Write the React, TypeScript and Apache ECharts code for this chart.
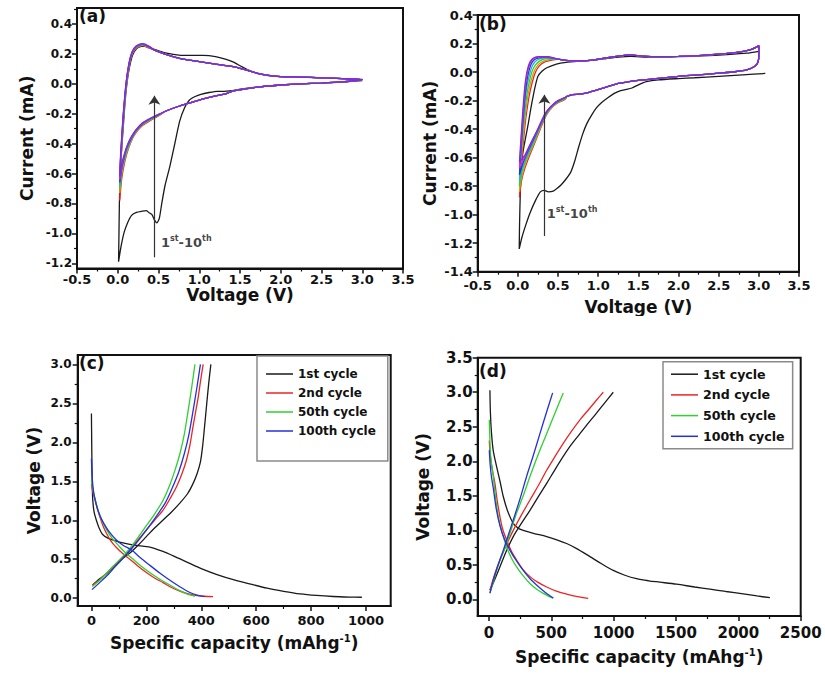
import React, { useEffect, useRef } from 'react';
import * as echarts from 'echarts';

const FONT = "'DejaVu Sans', 'Liberation Sans', sans-serif";
const INK = '#111111';

// ---------- Panel (a): CV, 1st-10th cycles ----------
const aCycle1 = [[3.0,0.022],[2.75,0.012],[2.5,0.005],[2.25,0.0],[2.0,-0.008],[1.75,-0.02],[1.55,-0.032],[1.4,-0.045],[1.3,-0.05],[1.22,-0.05],[1.12,-0.058],[1.02,-0.07],[0.95,-0.085],[0.88,-0.108],[0.82,-0.16],[0.76,-0.25],[0.7,-0.4],[0.64,-0.55],[0.58,-0.68],[0.54,-0.8],[0.51,-0.9],[0.48,-0.93],[0.45,-0.91],[0.42,-0.875],[0.38,-0.86],[0.35,-0.848],[0.3,-0.852],[0.23,-0.86],[0.17,-0.88],[0.12,-0.93],[0.08,-0.99],[0.05,-1.06],[0.03,-1.12],[0.01,-1.19],[0.015,-1.0],[0.02,-0.8],[0.03,-0.6],[0.05,-0.42],[0.07,-0.27],[0.09,-0.12],[0.11,-0.01],[0.14,0.1],[0.18,0.19],[0.23,0.235],[0.29,0.25],[0.34,0.25],[0.42,0.235],[0.5,0.22],[0.6,0.205],[0.75,0.192],[0.9,0.19],[1.05,0.19],[1.2,0.182],[1.32,0.165],[1.42,0.145],[1.52,0.115],[1.62,0.088],[1.75,0.065],[1.9,0.052],[2.1,0.047],[2.4,0.042],[2.7,0.036],[3.0,0.03]];
const aRightShared = [[0.45,0.225],[0.6,0.195],[0.8,0.165],[1.0,0.148],[1.2,0.132],[1.4,0.116],[1.55,0.096],[1.7,0.072],[1.85,0.056],[2.0,0.048],[2.25,0.045],[2.5,0.04],[2.75,0.035],[3.0,0.028],[2.75,0.013],[2.5,0.005],[2.25,0.0],[2.0,-0.008],[1.75,-0.02],[1.55,-0.035],[1.4,-0.05],[1.32,-0.068],[1.2,-0.08],[1.05,-0.1],[0.9,-0.125],[0.75,-0.15],[0.6,-0.18]];
const aLeftRed = [[0.6,-0.18],[0.5,-0.215],[0.4,-0.245],[0.3,-0.28],[0.22,-0.33],[0.16,-0.39],[0.11,-0.47],[0.075,-0.55],[0.05,-0.63],[0.035,-0.71],[0.025,-0.78],[0.028,-0.7],[0.036,-0.56],[0.048,-0.42],[0.065,-0.27],[0.085,-0.12],[0.105,-0.01],[0.13,0.09],[0.16,0.17],[0.2,0.22],[0.25,0.245],[0.31,0.255],[0.38,0.24],[0.45,0.225]];
const aLeftOrange = [[0.6,-0.18],[0.5,-0.21],[0.4,-0.24],[0.3,-0.275],[0.22,-0.325],[0.16,-0.385],[0.11,-0.46],[0.075,-0.53],[0.05,-0.6],[0.035,-0.67],[0.025,-0.73],[0.028,-0.66],[0.036,-0.53],[0.05,-0.4],[0.066,-0.26],[0.086,-0.12],[0.105,-0.01],[0.13,0.09],[0.16,0.175],[0.2,0.225],[0.25,0.25],[0.31,0.258],[0.38,0.245],[0.45,0.225]];
const aLeftGreen = [[0.6,-0.18],[0.5,-0.21],[0.4,-0.238],[0.3,-0.272],[0.22,-0.32],[0.16,-0.38],[0.11,-0.45],[0.075,-0.52],[0.05,-0.58],[0.035,-0.65],[0.025,-0.7],[0.028,-0.63],[0.036,-0.51],[0.05,-0.39],[0.066,-0.25],[0.086,-0.11],[0.105,0.0],[0.13,0.1],[0.16,0.178],[0.2,0.228],[0.25,0.252],[0.31,0.26],[0.38,0.246],[0.45,0.225]];
const aLeftCyan = [[0.6,-0.18],[0.5,-0.208],[0.4,-0.236],[0.3,-0.27],[0.22,-0.318],[0.16,-0.375],[0.11,-0.44],[0.075,-0.51],[0.05,-0.57],[0.035,-0.63],[0.025,-0.68],[0.028,-0.61],[0.036,-0.5],[0.05,-0.38],[0.066,-0.24],[0.086,-0.1],[0.105,0.0],[0.13,0.1],[0.16,0.18],[0.2,0.23],[0.25,0.254],[0.31,0.262],[0.38,0.247],[0.45,0.225]];
const aLeftBlue = [[0.6,-0.18],[0.5,-0.206],[0.4,-0.234],[0.3,-0.268],[0.22,-0.315],[0.16,-0.37],[0.11,-0.43],[0.075,-0.5],[0.05,-0.56],[0.035,-0.62],[0.025,-0.66],[0.028,-0.6],[0.036,-0.49],[0.05,-0.37],[0.066,-0.23],[0.086,-0.1],[0.105,0.01],[0.13,0.105],[0.16,0.182],[0.2,0.232],[0.25,0.256],[0.31,0.264],[0.38,0.248],[0.45,0.225]];
const aLeftMagenta = [[0.6,-0.18],[0.5,-0.205],[0.4,-0.232],[0.3,-0.265],[0.22,-0.312],[0.16,-0.365],[0.11,-0.425],[0.075,-0.49],[0.05,-0.55],[0.035,-0.6],[0.025,-0.64],[0.028,-0.58],[0.036,-0.48],[0.05,-0.36],[0.066,-0.22],[0.086,-0.09],[0.105,0.015],[0.13,0.11],[0.16,0.185],[0.2,0.235],[0.25,0.258],[0.31,0.266],[0.38,0.25],[0.45,0.225]];
const aLeftPurple = [[0.6,-0.18],[0.5,-0.204],[0.4,-0.23],[0.3,-0.262],[0.22,-0.31],[0.16,-0.36],[0.11,-0.42],[0.075,-0.48],[0.05,-0.53],[0.035,-0.58],[0.025,-0.62],[0.028,-0.56],[0.036,-0.46],[0.05,-0.34],[0.066,-0.21],[0.086,-0.08],[0.105,0.02],[0.13,0.115],[0.16,0.19],[0.2,0.238],[0.25,0.26],[0.31,0.268],[0.38,0.252],[0.45,0.225]];

// ---------- Panel (b) ----------
const bCycle1 = [[3.08,-0.01],[2.8,-0.02],[2.5,-0.03],[2.2,-0.04],[2.0,-0.046],[1.75,-0.055],[1.6,-0.068],[1.5,-0.09],[1.42,-0.112],[1.35,-0.122],[1.28,-0.13],[1.2,-0.15],[1.12,-0.18],[1.04,-0.215],[0.98,-0.25],[0.92,-0.3],[0.86,-0.36],[0.81,-0.43],[0.76,-0.52],[0.71,-0.62],[0.66,-0.7],[0.6,-0.75],[0.54,-0.79],[0.49,-0.815],[0.44,-0.835],[0.38,-0.84],[0.33,-0.83],[0.28,-0.84],[0.22,-0.9],[0.15,-0.99],[0.1,-1.07],[0.05,-1.16],[0.017,-1.24],[0.02,-1.1],[0.03,-0.85],[0.045,-0.65],[0.067,-0.55],[0.1,-0.45],[0.13,-0.36],[0.16,-0.26],[0.19,-0.17],[0.22,-0.09],[0.25,-0.03],[0.3,0.005],[0.36,0.03],[0.48,0.056],[0.6,0.068],[0.8,0.078],[0.95,0.085],[1.1,0.095],[1.25,0.105],[1.4,0.11],[1.6,0.105],[1.8,0.104],[2.0,0.108],[2.3,0.113],[2.6,0.122],[2.85,0.132],[3.0,0.145]];
const bRightShared = [[0.5,0.09],[0.65,0.078],[0.8,0.078],[0.95,0.085],[1.1,0.1],[1.25,0.112],[1.4,0.12],[1.55,0.112],[1.75,0.108],[2.0,0.11],[2.25,0.115],[2.5,0.125],[2.75,0.14],[2.9,0.158],[2.97,0.175],[3.0,0.185],[3.0,0.12],[2.99,0.07],[2.95,0.04],[2.85,0.015],[2.7,0.002],[2.5,-0.008],[2.25,-0.02],[2.0,-0.03],[1.75,-0.045],[1.5,-0.058],[1.25,-0.08],[1.05,-0.115],[0.9,-0.14],[0.77,-0.155],[0.68,-0.158],[0.6,-0.175]];
const bLeftRed = [[0.6,-0.185],[0.5,-0.215],[0.44,-0.24],[0.38,-0.28],[0.33,-0.33],[0.28,-0.4],[0.23,-0.47],[0.15,-0.58],[0.09,-0.67],[0.05,-0.75],[0.03,-0.82],[0.02,-0.88],[0.03,-0.76],[0.05,-0.6],[0.075,-0.45],[0.1,-0.32],[0.14,-0.17],[0.18,-0.07],[0.22,0.0],[0.27,0.045],[0.33,0.07],[0.41,0.082],[0.5,0.09]];
const bLeftOrange = [[0.6,-0.182],[0.5,-0.212],[0.44,-0.238],[0.38,-0.275],[0.33,-0.325],[0.28,-0.39],[0.23,-0.46],[0.15,-0.565],[0.09,-0.65],[0.05,-0.73],[0.03,-0.79],[0.02,-0.84],[0.03,-0.72],[0.048,-0.57],[0.07,-0.43],[0.095,-0.29],[0.13,-0.15],[0.17,-0.05],[0.21,0.015],[0.26,0.055],[0.32,0.077],[0.4,0.088],[0.5,0.09]];
const bLeftGreen = [[0.6,-0.18],[0.5,-0.21],[0.44,-0.235],[0.38,-0.27],[0.33,-0.32],[0.28,-0.38],[0.23,-0.45],[0.15,-0.55],[0.09,-0.63],[0.05,-0.7],[0.03,-0.76],[0.02,-0.8],[0.03,-0.68],[0.045,-0.54],[0.065,-0.4],[0.09,-0.26],[0.12,-0.13],[0.15,-0.05],[0.18,0.01],[0.22,0.05],[0.28,0.08],[0.36,0.095],[0.5,0.09]];
const bLeftCyan = [[0.6,-0.178],[0.5,-0.207],[0.44,-0.232],[0.38,-0.267],[0.33,-0.315],[0.28,-0.375],[0.23,-0.44],[0.15,-0.54],[0.09,-0.615],[0.05,-0.68],[0.03,-0.73],[0.02,-0.76],[0.03,-0.65],[0.045,-0.52],[0.063,-0.38],[0.085,-0.24],[0.11,-0.11],[0.14,-0.03],[0.17,0.03],[0.21,0.07],[0.27,0.092],[0.35,0.1],[0.5,0.09]];
const bLeftBlue = [[0.6,-0.177],[0.5,-0.204],[0.44,-0.23],[0.38,-0.264],[0.33,-0.31],[0.28,-0.37],[0.23,-0.43],[0.15,-0.525],[0.09,-0.6],[0.05,-0.66],[0.03,-0.7],[0.02,-0.72],[0.03,-0.62],[0.045,-0.49],[0.062,-0.35],[0.082,-0.21],[0.105,-0.09],[0.13,-0.01],[0.16,0.05],[0.2,0.085],[0.26,0.1],[0.35,0.105],[0.5,0.09]];
const bLeftMagenta = [[0.6,-0.176],[0.5,-0.202],[0.44,-0.228],[0.38,-0.262],[0.33,-0.305],[0.28,-0.365],[0.23,-0.425],[0.15,-0.515],[0.09,-0.59],[0.05,-0.635],[0.03,-0.66],[0.02,-0.67],[0.03,-0.58],[0.045,-0.45],[0.062,-0.31],[0.08,-0.18],[0.1,-0.07],[0.125,0.01],[0.155,0.065],[0.2,0.095],[0.26,0.105],[0.36,0.107],[0.5,0.09]];
const bLeftPurple = [[0.6,-0.175],[0.5,-0.2],[0.44,-0.225],[0.38,-0.26],[0.33,-0.3],[0.28,-0.36],[0.23,-0.42],[0.15,-0.51],[0.09,-0.58],[0.05,-0.61],[0.03,-0.625],[0.02,-0.63],[0.03,-0.54],[0.045,-0.41],[0.062,-0.27],[0.08,-0.14],[0.1,-0.04],[0.125,0.03],[0.155,0.075],[0.2,0.1],[0.26,0.108],[0.38,0.108],[0.5,0.09]];

// ---------- Panel (c): charge/discharge ----------
const cDis1 = [[0,2.37],[1,2.0],[2,1.7],[3,1.45],[5,1.25],[10,1.1],[18,1.0],[28,0.9],[40,0.82],[60,0.77],[85,0.74],[115,0.71],[150,0.685],[180,0.67],[220,0.65],[260,0.6],[300,0.54],[350,0.46],[400,0.38],[460,0.3],[520,0.235],[580,0.18],[640,0.128],[700,0.088],[760,0.055],[820,0.035],[880,0.022],[940,0.015],[985,0.012]];
const cChg1 = [[4,0.17],[30,0.25],[60,0.33],[80,0.4],[110,0.5],[140,0.58],[170,0.68],[200,0.79],[230,0.9],[260,1.0],[290,1.1],[322,1.22],[350,1.34],[370,1.47],[385,1.6],[397,1.75],[405,1.95],[412,2.2],[419,2.46],[427,2.75],[435,3.0]];
const cDis2 = [[0,1.47],[3,1.4],[6,1.35],[12,1.28],[20,1.17],[30,1.05],[42,0.93],[55,0.83],[70,0.74],[91,0.65],[115,0.57],[140,0.5],[170,0.41],[200,0.33],[230,0.26],[261,0.2],[290,0.14],[322,0.09],[350,0.058],[383,0.034],[410,0.025],[443,0.02]];
const cChg2 = [[3,0.17],[30,0.235],[55,0.32],[79,0.405],[110,0.51],[140,0.62],[170,0.75],[200,0.875],[230,1.0],[261,1.13],[290,1.3],[310,1.43],[330,1.6],[346,1.77],[358,1.95],[370,2.2],[380,2.4],[389,2.58],[398,2.8],[407,3.0]];
const cDis50 = [[0,1.52],[3,1.45],[8,1.35],[15,1.25],[25,1.12],[38,1.0],[55,0.88],[75,0.77],[100,0.67],[125,0.58],[155,0.49],[185,0.4],[220,0.31],[255,0.23],[290,0.16],[320,0.1],[345,0.06],[365,0.035],[377,0.025]];
const cChg50 = [[3,0.15],[30,0.23],[55,0.32],[79,0.41],[110,0.52],[140,0.64],[170,0.78],[200,0.93],[230,1.08],[260,1.25],[285,1.45],[305,1.65],[322,1.85],[338,2.1],[352,2.4],[365,2.7],[377,3.0]];
const cDis100 = [[0,1.79],[2,1.6],[5,1.45],[10,1.32],[20,1.17],[32,1.05],[45,0.96],[65,0.85],[90,0.75],[115,0.68],[146,0.62],[175,0.53],[210,0.43],[250,0.32],[290,0.22],[325,0.14],[355,0.08],[385,0.04],[413,0.02]];
const cChg100 = [[2,0.11],[30,0.2],[60,0.3],[90,0.42],[120,0.53],[150,0.65],[180,0.78],[210,0.92],[240,1.07],[270,1.23],[295,1.42],[318,1.62],[338,1.85],[355,2.1],[370,2.4],[384,2.7],[397,3.0]];

// ---------- Panel (d) ----------
const dDis1 = [[8,3.03],[12,2.7],[21,2.4],[35,2.15],[62,1.92],[90,1.7],[115,1.49],[150,1.28],[195,1.1],[235,1.03],[275,1.0],[350,0.96],[463,0.91],[550,0.86],[623,0.81],[700,0.74],[810,0.62],[900,0.52],[997,0.42],[1090,0.35],[1184,0.3],[1280,0.27],[1371,0.25],[1505,0.22],[1650,0.18],[1772,0.15],[1900,0.115],[2039,0.08],[2150,0.05],[2253,0.025]];
const dChg1 = [[8,0.135],[40,0.26],[88,0.47],[140,0.7],[195,0.91],[260,1.1],[329,1.29],[400,1.5],[463,1.68],[530,1.88],[596,2.07],[660,2.24],[730,2.4],[800,2.56],[864,2.7],[930,2.85],[997,3.0]];
const dDis2 = [[3,2.3],[10,2.1],[25,1.9],[48,1.68],[65,1.45],[88,1.2],[110,1.02],[142,0.86],[180,0.7],[222,0.57],[270,0.44],[329,0.33],[390,0.25],[463,0.18],[540,0.12],[623,0.077],[710,0.04],[796,0.014]];
const dChg2 = [[8,0.13],[40,0.33],[88,0.57],[140,0.79],[195,1.0],[260,1.22],[329,1.44],[400,1.66],[463,1.87],[530,2.07],[596,2.26],[660,2.43],[730,2.6],[800,2.75],[860,2.88],[917,3.0]];
const dDis50 = [[3,2.6],[8,2.3],[15,2.05],[35,1.78],[55,1.45],[75,1.2],[105,0.97],[142,0.76],[180,0.6],[222,0.47],[275,0.34],[329,0.23],[380,0.15],[436,0.087],[480,0.045],[516,0.02]];
const dChg50 = [[8,0.09],[35,0.25],[62,0.42],[100,0.62],[142,0.81],[180,1.02],[222,1.25],[275,1.5],[329,1.78],[395,2.1],[463,2.4],[530,2.7],[596,2.99]];
const dDis100 = [[3,2.16],[10,1.95],[20,1.78],[35,1.61],[60,1.3],[88,1.07],[125,0.87],[169,0.71],[220,0.56],[275,0.42],[330,0.3],[382,0.21],[440,0.12],[480,0.065],[516,0.02]];
const dChg100 = [[8,0.09],[35,0.28],[70,0.48],[115,0.71],[155,0.93],[195,1.15],[250,1.46],[302,1.78],[355,2.08],[409,2.4],[460,2.7],[511,2.99]];

// ---------- tick values ----------
const cvXTicks = [-0.5,0,0.5,1,1.5,2,2.5,3,3.5];
const cvXMinor = [-0.25,0.25,0.75,1.25,1.75,2.25,2.75,3.25];
const aYTicks = [-1.2,-1.0,-0.8,-0.6,-0.4,-0.2,0,0.2,0.4];
const aYMinor = [-1.1,-0.9,-0.7,-0.5,-0.3,-0.1,0.1,0.3,0.5];
const bYTicks = [-1.4,-1.2,-1.0,-0.8,-0.6,-0.4,-0.2,0,0.2,0.4];
const bYMinor = [-1.3,-1.1,-0.9,-0.7,-0.5,-0.3,-0.1,0.1,0.3];
const cXTicks = [0,200,400,600,800,1000];
const cXMinor = [100,300,500,700,900];
const cYTicks = [0,0.5,1,1.5,2,2.5,3];
const cYMinor = [0.25,0.75,1.25,1.75,2.25,2.75];
const dXTicks = [0,500,1000,1500,2000,2500];
const dXMinor = [250,750,1250,1750,2250];
const dYTicks = [0,0.5,1,1.5,2,2.5,3,3.5];
const dYMinor = [0.25,0.75,1.25,1.75,2.25,2.75,3.25];

const legendNames = ['1st cycle','2nd cycle','50th cycle','100th cycle'];
const arrowA = [[0.45,-1.16],[0.45,-0.08]];
const labelA = [0.53,-1.06];
const arrowB = [[0.33,-1.15],[0.33,-0.16]];
const labelB = [0.36,-0.99];

const C_BLACK = '#1a1a1a', C_RED = '#ee2424', C_ORANGE = '#c9a21a', C_GREEN = '#2fd02f', C_CYAN = '#1fb5d5', C_BLUE = '#2430d8', C_MAGENTA = '#d82ad8', C_PURPLE = '#7b2fcf';

type AxCfg = { min: number; max: number; major: number[]; minor: number[]; dec: number; fs: number; margin: number; name: string; gap: number };

function axisPair(grid: number, dir: 'x' | 'y', c: AxCfg) {
  const pos = dir === 'x' ? 'bottom' : 'left';
  const main = {
    type: 'value', gridIndex: grid, min: c.min, max: c.max, position: pos,
    axisLine: { show: true, onZero: false, lineStyle: { color: INK, width: 2 } },
    axisTick: { show: true, inside: false, length: 5, customValues: c.major, lineStyle: { color: INK, width: 1.5 } },
    axisLabel: { show: true, customValues: c.major, margin: c.margin, formatter: (v: number) => v.toFixed(c.dec), fontFamily: FONT, fontWeight: 'bold', fontSize: c.fs, color: INK, hideOverlap: false },
    splitLine: { show: false },
    name: c.name, nameLocation: 'middle', nameGap: c.gap,
    nameTextStyle: {
      fontFamily: FONT, fontWeight: 'bold', fontSize: 17, color: INK,
      rich: {
        t: { fontFamily: FONT, fontWeight: 'bold', fontSize: 17, color: INK },
        s: { fontFamily: FONT, fontWeight: 'bold', fontSize: 10, color: INK, padding: [0, 0, 9, 0] },
      },
    },
  };
  const minor = {
    type: 'value', gridIndex: grid, min: c.min, max: c.max, position: pos,
    axisLine: { show: false, onZero: false },
    axisTick: { show: true, inside: false, length: 3, customValues: c.minor, lineStyle: { color: INK, width: 1.2 } },
    axisLabel: { show: false },
    splitLine: { show: false },
  };
  return [main, minor];
}

function line(name: string, grid: number, data: number[][], color: string, width = 1.3, smooth: number | boolean = 0.2) {
  return {
    type: 'line', name, xAxisIndex: grid * 2, yAxisIndex: grid * 2, data,
    showSymbol: false, symbol: 'none', smooth, color,
    lineStyle: { color, width }, silent: true, z: 3,
  };
}

function arrowSeries(grid: number, arrow: number[][], label: number[]) {
  return {
    type: 'scatter', name: 'arrow' + grid, xAxisIndex: grid * 2, yAxisIndex: grid * 2,
    data: [label], symbolSize: 0, silent: true, z: 5,
    label: {
      show: true, position: 'right', distance: 0,
      formatter: '{n|1}{s|st}{n|-10}{s|th}',
      rich: {
        n: { fontFamily: FONT, fontWeight: 'bold', fontSize: 13, color: INK },
        s: { fontFamily: FONT, fontWeight: 'bold', fontSize: 8, color: INK, padding: [0, 0, 8, 0] },
      },
    },
    markLine: {
      silent: true, symbol: ['none', 'arrow'], symbolSize: 9, animation: false, precision: 3,
      lineStyle: { color: '#333333', width: 1.2, type: 'solid' }, label: { show: false },
      emphasis: { disabled: true },
      data: [[{ coord: arrow[0] }, { coord: arrow[1] }]],
    },
  };
}

function buildOption() {
  const grids = [
    { left: 77, top: 8, width: 326, height: 260.5 },
    { left: 477.7, top: 15, width: 321.3, height: 256.7 },
    { left: 77.7, top: 355, width: 313, height: 251 },
    { left: 477.7, top: 357.7, width: 323, height: 258.3 },
  ].map((g) => ({ ...g, show: true, borderColor: INK, borderWidth: 2, backgroundColor: 'transparent', containLabel: false }));

  const xAxis = [
    ...axisPair(0, 'x', { min: -0.5, max: 3.5, major: cvXTicks, minor: cvXMinor, dec: 1, fs: 13, margin: 4, name: 'Voltage (V)', gap: 18 }),
    ...axisPair(1, 'x', { min: -0.5, max: 3.5, major: cvXTicks, minor: cvXMinor, dec: 1, fs: 13, margin: 7, name: 'Voltage (V)', gap: 27 }),
    ...axisPair(2, 'x', { min: -50, max: 1090, major: cXTicks, minor: cXMinor, dec: 0, fs: 13, margin: 8, name: '{t|Specific capacity (mAhg}{s|-1}{t|)}', gap: 27 }),
    ...axisPair(3, 'x', { min: -90, max: 2500, major: dXTicks, minor: dXMinor, dec: 0, fs: 15, margin: 9, name: '{t|Specific capacity (mAhg}{s|-1}{t|)}', gap: 31 }),
  ];
  const yAxis = [
    ...axisPair(0, 'y', { min: -1.235, max: 0.507, major: aYTicks, minor: aYMinor, dec: 1, fs: 12, margin: 5, name: 'Current (mA)', gap: 42 }),
    ...axisPair(1, 'y', { min: -1.4, max: 0.4, major: bYTicks, minor: bYMinor, dec: 1, fs: 13, margin: 5, name: 'Current (mA)', gap: 39 }),
    ...axisPair(2, 'y', { min: -0.1, max: 3.12, major: cYTicks, minor: cYMinor, dec: 1, fs: 12, margin: 6, name: 'Voltage (V)', gap: 35 }),
    ...axisPair(3, 'y', { min: -0.24, max: 3.5, major: dYTicks, minor: dYMinor, dec: 1, fs: 15, margin: 5, name: 'Voltage (V)', gap: 46 }),
  ];

  const series: any[] = [
    line('a-1', 0, aCycle1, C_BLACK),
    line('a-2', 0, [...aRightShared, ...aLeftRed], C_RED),
    line('a-3', 0, [...aRightShared, ...aLeftOrange], C_ORANGE),
    line('a-5', 0, [...aRightShared, ...aLeftGreen], C_GREEN),
    line('a-7', 0, [...aRightShared, ...aLeftCyan], C_CYAN),
    line('a-8', 0, [...aRightShared, ...aLeftBlue], C_BLUE),
    line('a-9', 0, [...aRightShared, ...aLeftMagenta], C_MAGENTA),
    line('a-10', 0, [...aRightShared, ...aLeftPurple], C_PURPLE),
    arrowSeries(0, arrowA, labelA),

    line('b-1', 1, bCycle1, C_BLACK),
    line('b-2', 1, [...bRightShared, ...bLeftRed], C_RED),
    line('b-3', 1, [...bRightShared, ...bLeftOrange], C_ORANGE),
    line('b-5', 1, [...bRightShared, ...bLeftGreen], C_GREEN),
    line('b-7', 1, [...bRightShared, ...bLeftCyan], C_CYAN),
    line('b-8', 1, [...bRightShared, ...bLeftBlue], C_BLUE),
    line('b-9', 1, [...bRightShared, ...bLeftMagenta], C_MAGENTA),
    line('b-10', 1, [...bRightShared, ...bLeftPurple], C_PURPLE),
    arrowSeries(1, arrowB, labelB),

    line(legendNames[0], 2, cDis1, C_BLACK, 1.3, 0.3),
    line(legendNames[0], 2, cChg1, C_BLACK, 1.3, 0.3),
    line(legendNames[1], 2, cDis2, C_RED, 1.3, 0.3),
    line(legendNames[1], 2, cChg2, C_RED, 1.3, 0.3),
    line(legendNames[2], 2, cDis50, C_GREEN, 1.3, 0.3),
    line(legendNames[2], 2, cChg50, C_GREEN, 1.3, 0.3),
    line(legendNames[3], 2, cDis100, C_BLUE, 1.3, 0.3),
    line(legendNames[3], 2, cChg100, C_BLUE, 1.3, 0.3),

    line(legendNames[0], 3, dDis1, C_BLACK, 1.3, 0.3),
    line(legendNames[0], 3, dChg1, C_BLACK, 1.3, 0.3),
    line(legendNames[1], 3, dDis2, C_RED, 1.3, 0.3),
    line(legendNames[1], 3, dChg2, C_RED, 1.3, 0.3),
    line(legendNames[2], 3, dDis50, C_GREEN, 1.3, 0.3),
    line(legendNames[2], 3, dChg50, C_GREEN, 1.3, 0.3),
    line(legendNames[3], 3, dDis100, C_BLUE, 1.3, 0.3),
    line(legendNames[3], 3, dChg100, C_BLUE, 1.3, 0.3),
  ];

  const legendBase = {
    show: true, orient: 'vertical', data: legendNames, selectedMode: false,
    icon: 'path://M0,0H54V3H0Z', itemStyle: { borderWidth: 0 },
    itemWidth: 27, itemHeight: 12, borderColor: '#8a8a8a', borderWidth: 1.5, backgroundColor: '#ffffff',
    textStyle: { fontFamily: FONT, fontWeight: 'bold', color: INK },
  };
  const legend = [
    { ...legendBase, left: 257, top: 356, itemGap: 7, padding: [12, 12, 24, 9], textStyle: { ...legendBase.textStyle, fontSize: 12 } },
    { ...legendBase, left: 663, top: 361.7, itemGap: 7.7, padding: [6, 8, 6, 8], textStyle: { ...legendBase.textStyle, fontSize: 12.6 } },
  ];

  const lbl = (text: string, left: number, top: number) => ({
    type: 'text', left, top, z: 10,
    style: { text, font: `bold 17px ${FONT}`, fill: INK },
  });

  return {
    animation: false,
    backgroundColor: '#ffffff',
    grid: grids,
    xAxis,
    yAxis,
    legend,
    series,
    graphic: [
      lbl('(a)', 79, 7),
      lbl('(b)', 479, 15),
      lbl('(c)', 79, 354),
      lbl('(d)', 479, 362),
      { type: 'rect', shape: { x: 410, y: 316, width: 415, height: 8 }, style: { fill: '#ffffff' }, z: 100 },
    ],
  };
}

export default function App() {
  const ref = useRef<HTMLDivElement>(null);
  useEffect(() => {
    if (!ref.current) return;
    const chart = echarts.init(ref.current, null, { renderer: 'svg' });
    chart.setOption(buildOption() as any);
    return () => chart.dispose();
  }, []);
  return (
    <div
      ref={ref}
      style={{ position: 'absolute', left: 0, top: 0, width: 825, height: 675, background: '#ffffff' }}
    />
  );
}
